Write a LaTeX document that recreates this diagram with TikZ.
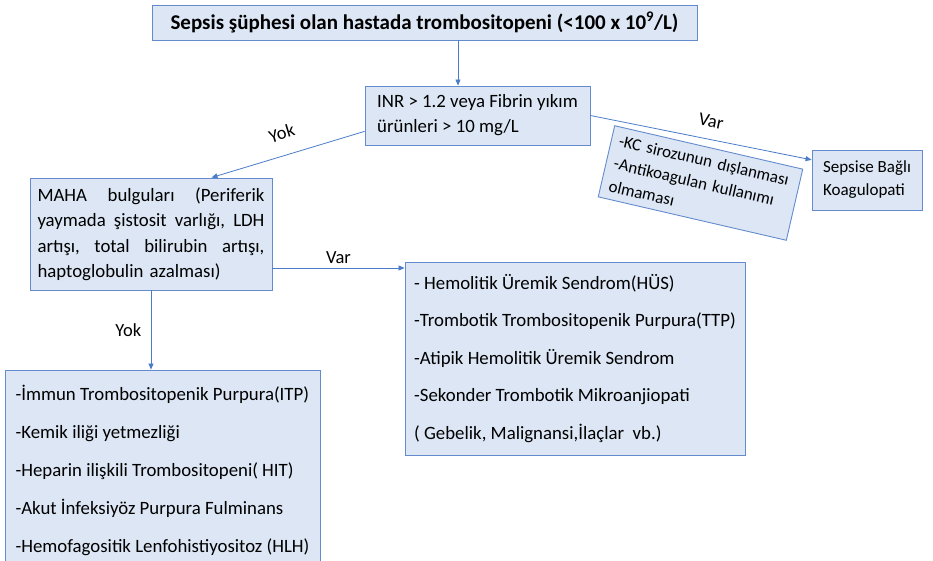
\documentclass[tikz,border=0pt]{standalone}
\usepackage{fontspec}
\setmainfont{Carlito}
\usepackage{xcolor}
\usetikzlibrary{positioning,arrows.meta}
\definecolor{boxfill}{RGB}{220, 230, 244}
\definecolor{boxline}{RGB}{100, 140, 205}
\definecolor{arrowblue}{RGB}{74, 124, 200}

\begin{document}
\begin{tikzpicture}[x=1pt, y=-1pt,
  box/.style={draw=boxline, fill=boxfill, line width=0.9pt, inner sep=0pt, text=black, font=\fontsize{18.8}{25}\selectfont},
  arr/.style={-{Triangle[length=6pt,width=5pt]}, arrowblue, line width=0.8pt},
  lbl/.style={text=black, font=\fontsize{18.5}{22}\selectfont}]
\useasboundingbox (0,0) rectangle (933,560);

\node[box, minimum width=545pt, minimum height=35pt, font=\bfseries\fontsize{21}{24}\selectfont] (top) at (424.5,22.5) {Sepsis şüphesi olan hastada trombositopeni (<100 x 10\textsuperscript{9}/L)};
\node[box, minimum width=225pt, minimum height=59pt, align=left] (inr) at (477.5,115.5) {INR > 1.2 veya Fibrin yıkım\\ürünleri > 10 mg/L};
\node[box, minimum width=110pt, minimum height=60pt, align=left, font=\fontsize{17}{23}\selectfont] (sepsis) at (867,180) {Sepsise Bağlı\\Koagulopati};
\node[box, rotate=-13, minimum width=193pt, minimum height=73pt, text width=177pt, align=left, font=\fontsize{17}{23}\selectfont] (kc) at (700.5,183) {-KC sirozunun dışlanması\\-Antikoagulan kullanımı\\olmaması};
\node[box, minimum width=242pt, minimum height=112pt, text width=227pt, align=left, font=\fontsize{18.8}{25.5}\selectfont] (maha) at (151,234)
  {MAHA\hfill bulguları\hfill (Periferik\\yaymada\hfill şistosit\hfill varlığı,\hfill LDH\\artışı,\hfill total\hfill bilirubin\hfill artışı,\\haptoglobulin azalması)};
\node[box, minimum width=340pt, minimum height=193pt, align=left, font=\fontsize{18.8}{37.5}\selectfont] (hus) at (575,358.5)
  {- Hemolitik Üremik Sendrom(HÜS)\\-Trombotik Trombositopenik Purpura(TTP)\\-Atipik Hemolitik Üremik Sendrom\\-Sekonder Trombotik Mikroanjiopati\\( Gebelik, Malignansi,İlaçlar~ vb.)};
\node[box, minimum width=315pt, minimum height=200pt, align=left, font=\fontsize{18.8}{38}\selectfont] (itp) at (162.5,470)
  {-İmmun Trombositopenik Purpura(ITP)\\-Kemik iliği yetmezliği\\-Heparin ilişkili Trombositopeni( HIT)\\-Akut İnfeksiyöz Purpura Fulminans\\-Hemofagositik Lenfohistiyositoz (HLH)};

\coordinate (t) at ([xshift=-19.5pt]inr.north);
\draw[arr] (top.south -| t) -- (t);
\draw[arr] (inr.188) -- node[lbl, sloped, above=12pt] {Yok} (maha.43);
\draw[arr] (inr.east) -- node[lbl, sloped, above=8pt, pos=0.53] {Var} (sepsis.160);
\draw[arr] ([yshift=-34pt]maha.east) -- node[lbl, above=1pt] {Var} ([yshift=-34pt]maha.east -| hus.west);
\draw[arr] (maha.south) -- node[lbl, left=6pt] {Yok} (maha.south |- itp.north);
\end{tikzpicture}
\end{document}
